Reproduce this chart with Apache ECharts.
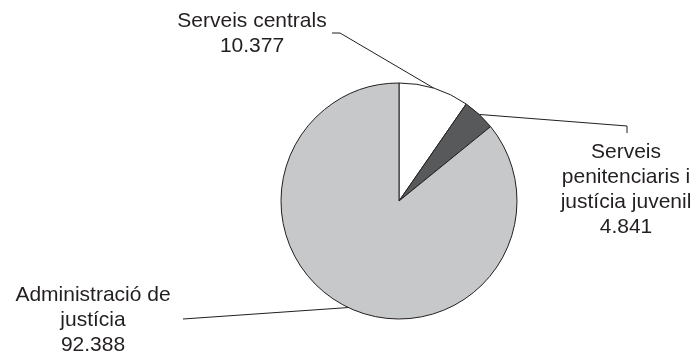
<!DOCTYPE html>
<html>
<head>
<meta charset="utf-8">
<script src="https://cdn.jsdelivr.net/npm/echarts@6/dist/echarts.min.js"></script>
<style>
html,body{margin:0;padding:0;background:#fff;}
#chart{width:698px;height:358px;}
</style>
</head>
<body>
<div id="chart"></div>
<script>
var categories = ['Serveis centrals', 'Serveis\npenitenciaris i\njustícia juvenil', 'Administració de\njustícia'];
var values = [10377, 4841, 92388];
var sliceColors = ['#ffffff', '#58595b', '#c7c8ca'];

function fmt(v) {
  return String(v).replace(/\B(?=(\d{3})+(?!\d))/g, '.');
}

// label anchor (text block centre) and leader elbow points, relative to chart
var labelPlaces = [
  { x: 252, y: 34, pts: [[340, 33], [332, 33]] },
  { x: 626, y: 190, pts: [[627, 126], [627, 133]] },
  { x: 93, y: 320, pts: [[183, 319]] }
];

var chart = echarts.init(document.getElementById('chart'), null, { renderer: 'canvas' });
chart.setOption({
  animation: false,
  backgroundColor: '#ffffff',
  series: [{
    type: 'pie',
    center: [399, 201],
    radius: 118,
    startAngle: 90,
    clockwise: true,
    avoidLabelOverlap: false,
    emphasis: { disabled: true },
    itemStyle: { borderColor: '#231f20', borderWidth: 1 },
    data: categories.map(function (c, i) {
      return { name: c, value: values[i], itemStyle: { color: sliceColors[i] } };
    }),
    label: {
      show: true,
      position: 'outside',
      formatter: function (p) { return p.name + '\n' + fmt(p.value); },
      fontFamily: '"Liberation Sans", Arial, sans-serif',
      fontSize: 21,
      lineHeight: 25,
      color: '#231f20',
      align: 'center'
    },
    labelLine: {
      show: true,
      smooth: false,
      lineStyle: { color: '#231f20', width: 1 }
    },
    labelLayout: function (params) {
      var lp = labelPlaces[params.dataIndex];
      var start = params.labelLinePoints ? params.labelLinePoints[0] : null;
      var pts = start ? [start].concat(lp.pts) : null;
      if (pts && pts.length === 2) { pts.push(lp.pts[0]); }
      return {
        x: lp.x,
        y: lp.y,
        align: 'center',
        verticalAlign: 'middle',
        labelLinePoints: pts
      };
    }
  }]
});
</script>
</body>
</html>
